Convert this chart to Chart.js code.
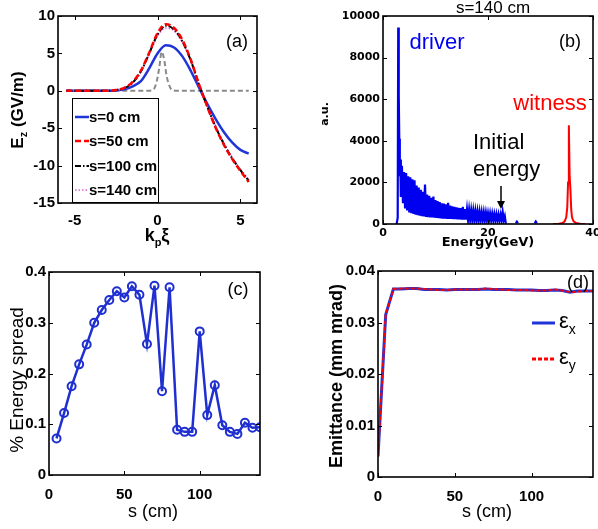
<!DOCTYPE html>
<html><head><meta charset="utf-8">
<script src="https://cdn.jsdelivr.net/npm/chart.js@4.4.1/dist/chart.umd.min.js"></script>
<style>
html,body{margin:0;padding:0;background:#fff;overflow:hidden;width:598px;height:529px;}
canvas{position:absolute;display:block;}
</style></head><body>
<canvas id="ca" width="280" height="250" style="left:0;top:0"></canvas>
<canvas id="cb" width="298" height="250" style="left:300px;top:0"></canvas>
<canvas id="cc" width="280" height="274" style="left:0;top:255px"></canvas>
<canvas id="cd" width="298" height="274" style="left:300px;top:255px"></canvas>
<script>
// ---------- Panel (a): longitudinal field ----------
const kpXi   = [-5.5,-5,-4.5,-4,-3.5,-3,-2.5,-2,-1.5,-1,-0.5,0,0.5,1,1.5,2,2.5,3,3.5,4,4.5,5,5.5];
const ezS0   = [0,0,0,0,0,0,0.05,0.2,0.6,1.3,3.0,5.0,6.1,5.8,4.6,2.7,0.45,-1.75,-3.75,-5.5,-6.9,-7.9,-8.4];
const ezS50  = [0,0,0,0,0,0,0.1,0.4,1.2,2.7,5.1,7.7,8.9,8.4,6.8,4.2,0.9,-2.1,-4.9,-7.2,-9.1,-10.7,-12.2];
const ezS100 = [0,0,0,0,0,0,0.1,0.35,1.1,2.6,5.0,7.5,8.7,8.2,6.6,4.1,0.85,-2.1,-4.8,-7.1,-9.0,-10.6,-12.0];
const ezS140 = [0,0,0,0,0,0,0.1,0.3,1.0,2.5,4.9,7.3,8.4,8.0,6.5,4.0,0.8,-2.1,-4.7,-7.0,-8.9,-10.5,-11.9];
const beamXi      = [-5.5,-0.6,-0.3,-0.1,0.1,0.25,0.4,0.55,0.75,0.95,1.2,5.5];
const beamProfile = [0,0,0.1,0.8,3.0,5.2,4.2,2.0,0.5,0.05,0,0];
const ezLabels = ['s=0 cm','s=50 cm','s=100 cm','s=140 cm'];

// ---------- Panel (b): energy spectrum at s=140 cm ----------
const driverE = [2.6,2.8,2.9,3.0,3.1,3.2,3.3,3.4,3.6,3.8,4.0,4.2,4.4,4.6,4.8,5.0,5.2,5.4,5.6,5.8,6.0,6.2,6.4,6.6,6.8,7.0,7.2,7.4,7.6,7.8,8.0,8.2,8.4,8.6,8.8,9.0,9.2,9.4,9.6,9.8,10.0,10.2,10.4,10.6,10.8,11.0,11.2,11.4,11.6,11.8,12.0,12.2,12.4,12.6,12.8,13.0,13.2,13.4,13.6,13.8,14.0,14.2,14.4,14.6,14.8,15.0,15.2,15.4,15.6,15.8,16.0,16.2,16.4,16.6,16.8,17.0,17.2,17.4,17.6,17.8,18.0,18.2,18.4,18.6,18.8,19.0,19.2,19.4,19.6,19.8,20.0,20.2,20.4,20.6,20.8,21.0,21.2,21.4,21.6,21.8,22.0,22.2,22.4,22.6,22.8,23.0,23.2,23.4,24.0,25.3,25.5,25.7,27.0,28.9,29.1,29.3];
const driverCounts = [0,300,9450,6200,4100,2300,3100,1300,2800,1000,2500,750,2450,650,2300,560,2250,520,2150,480,2100,450,1850,420,1750,400,1650,380,1550,360,1900,340,1420,330,1350,320,1260,310,1320,300,1150,290,1100,280,1050,270,1000,260,980,255,950,250,1020,245,880,240,850,235,820,230,800,225,780,220,760,215,830,210,720,205,700,200,680,200,650,195,640,195,620,190,600,190,590,185,570,185,560,180,540,180,520,175,510,175,500,170,480,170,470,165,460,165,450,160,580,200,380,0,null,40,110,40,null,40,120,40];
const witnessE = [32.4,33.5,34.2,34.6,34.9,35.1,35.25,35.4,35.55,35.7,35.85,36.0,36.3,36.8,37.5,38.5];
const witnessCounts = [0,15,50,130,320,800,2000,4750,2300,1650,700,320,130,45,15,0];

// ---------- Panel (c): energy spread ----------
const sSpread = [5,10,15,20,25,30,35,40,45,50,55,60,65,70,75,80,85,90,95,100,105,110,115,120,125,130,135,140];
const energySpread = [0.072,0.122,0.175,0.218,0.257,0.300,0.325,0.345,0.362,0.350,0.372,0.355,0.258,0.373,0.165,0.370,0.089,0.085,0.085,0.283,0.118,0.177,0.098,0.085,0.081,0.103,0.093,0.094];

// ---------- Panel (d): emittance ----------
const sEmit = [0,5,10,15,20,25,30,35,40,45,50,55,60,65,70,75,80,85,90,95,100,105,110,115,120,125,130,135,140];
const emitX = [0.004,0.0315,0.0365,0.0365,0.0366,0.0366,0.0364,0.0364,0.0364,0.0363,0.0364,0.0364,0.0364,0.0364,0.0365,0.0364,0.0364,0.0364,0.0363,0.0363,0.0363,0.0362,0.0362,0.0363,0.0362,0.0359,0.0361,0.0361,0.0361];
const emitY = [0.004,0.0315,0.0365,0.0366,0.0366,0.0366,0.0365,0.0364,0.0363,0.0363,0.0364,0.0364,0.0364,0.0364,0.0366,0.0365,0.0364,0.0363,0.0363,0.0363,0.0362,0.0362,0.0362,0.0364,0.0362,0.0359,0.0360,0.0361,0.0361];

const pts = (xs, ys) => xs.map((x, i) => ({x: x, y: ys[i]}));
const NARROW = "'Liberation Sans Narrow','Liberation Sans',Arial,sans-serif";
const SANS = "'Liberation Sans',Arial,sans-serif";
const WIDE = "'DejaVu Sans',Verdana,sans-serif";

function drawRich(ctx, it) {
  ctx.save();
  ctx.translate(it.x, it.y);
  if (it.rotate) ctx.rotate(it.rotate);
  const fam = it.family || SANS, wt = it.weight || 'normal';
  const base = wt + ' ' + it.size + 'px ' + fam;
  const sub = wt + ' ' + Math.round(it.size * 0.62) + 'px ' + fam;
  let w = 0; const ws = [];
  it.segs.forEach(s => { ctx.font = s[1] ? sub : base; const m = ctx.measureText(s[0]).width; ws.push(m); w += m; });
  let x = it.align === 'left' ? 0 : (it.align === 'right' ? -w : -w / 2);
  ctx.textBaseline = 'middle';
  ctx.fillStyle = it.color || '#000';
  it.segs.forEach((s, i) => {
    ctx.font = s[1] ? sub : base;
    ctx.fillText(s[0], x, s[1] ? it.size * 0.38 : 0);
    x += ws[i];
  });
  ctx.restore();
}

function makeDeco(texts, extra) {
  return {
    id: 'deco',
    afterDraw(chart) {
      const {ctx, chartArea: a, scales} = chart;
      ctx.save();
      ctx.strokeStyle = '#000';
      ctx.lineWidth = 1;
      const L = 4;
      ctx.beginPath();
      scales.x.ticks.forEach(t => {
        const p = Math.round(scales.x.getPixelForValue(t.value)) + 0.5;
        ctx.moveTo(p, a.bottom); ctx.lineTo(p, a.bottom - L);
        ctx.moveTo(p, a.top); ctx.lineTo(p, a.top + L);
      });
      scales.y.ticks.forEach(t => {
        const p = Math.round(scales.y.getPixelForValue(t.value)) + 0.5;
        ctx.moveTo(a.left, p); ctx.lineTo(a.left + L, p);
        ctx.moveTo(a.right, p); ctx.lineTo(a.right - L, p);
      });
      ctx.stroke();
      ctx.lineWidth = 1.6;
      ctx.strokeRect(a.left, a.top, a.right - a.left, a.bottom - a.top);
      ctx.restore();
      if (extra) extra(chart, ctx);
      texts.forEach(t => drawRich(ctx, t));
    }
  };
}

function axes(xmin, xmax, xstep, ymin, ymax, ystep, yW, xH, tickFont, xPad, yPad, yFmt) {
  return {
    x: {type: 'linear', min: xmin, max: xmax,
        ticks: {stepSize: xstep, includeBounds: false, font: tickFont, color: '#000', padding: xPad, maxRotation: 0},
        grid: {display: false, drawTicks: false}, border: {display: false},
        afterFit(s) { s.height = xH; s.paddingLeft = 0; s.paddingRight = 0; }},
    y: {type: 'linear', min: ymin, max: ymax,
        ticks: Object.assign({stepSize: ystep, includeBounds: false, font: tickFont, color: '#000', padding: yPad}, yFmt ? {callback: yFmt} : {}),
        grid: {display: false, drawTicks: false}, border: {display: false},
        afterFit(s) { s.width = yW; s.paddingTop = 0; s.paddingBottom = 0; }}
  };
}

const basePlugins = {legend: {display: false}, tooltip: {enabled: false}};

// ----- Chart A -----
const colA = ['#1f35d8', '#ff0000', '#000000', '#e060e0'];
const dashA = [[], [6, 3], [6, 2, 1.5, 2], [1.5, 2]];
const widthA = [2.5, 2.5, 2, 1.6];
const seriesA = [ezS0, ezS50, ezS100, ezS140];
const ordA = [4, 1, 2, 3];
const dsA = seriesA.map((s, i) => ({
  label: ezLabels[i], data: pts(kpXi, s), borderColor: colA[i], borderWidth: widthA[i],
  borderDash: dashA[i], pointRadius: 0, tension: 0.4, cubicInterpolationMode: 'monotone', order: ordA[i]
}));
dsA.push({label: '', data: pts(beamXi, beamProfile), borderColor: '#8a8a8a', borderWidth: 2,
  borderDash: [5, 3], pointRadius: 0, cubicInterpolationMode: 'monotone', order: 5});

const legendA = (chart, ctx) => {
  ctx.save();
  ctx.fillStyle = '#fff';
  ctx.fillRect(72, 98, 86, 104);
  ctx.strokeStyle = '#000'; ctx.lineWidth = 1;
  ctx.strokeRect(72.5, 98.5, 86, 104);
  const ys = [117, 141, 166, 190];
  ezLabels.forEach((lab, i) => {
    ctx.beginPath();
    ctx.setLineDash(dashA[i]);
    ctx.strokeStyle = colA[i]; ctx.lineWidth = widthA[i];
    ctx.moveTo(75, ys[i]); ctx.lineTo(89, ys[i]); ctx.stroke();
    ctx.setLineDash([]);
    ctx.fillStyle = '#000'; ctx.font = 'bold 15px ' + NARROW; ctx.textBaseline = 'middle';
    ctx.fillText(lab, 89, ys[i] + 1);
  });
  ctx.restore();
};

new Chart(document.getElementById('ca'), {
  type: 'line',
  data: {datasets: dsA},
  options: {
    responsive: false, animation: false,
    layout: {padding: {left: 0, top: 16, right: 23, bottom: 0}},
    scales: axes(-6, 6, 5, -15, 10, 5, 58, 47, {size: 15, weight: 'bold', family: NARROW}, 9, 3),
    plugins: basePlugins
  },
  plugins: [makeDeco([
    {x: 18, y: 110, rotate: -Math.PI / 2, size: 17, weight: 'bold', segs: [['E'], ['z', 1], [' (GV/m)']]},
    {x: 157, y: 236, size: 18, weight: 'bold', segs: [['k'], ['p', 1], ['ξ']]},
    {x: 237, y: 42, size: 18, segs: [['(a)']]}
  ], legendA)]
});

// ----- Chart B -----
const arrowB = (chart, ctx) => {
  ctx.save();
  ctx.strokeStyle = '#000'; ctx.fillStyle = '#000'; ctx.lineWidth = 1.5;
  ctx.beginPath(); ctx.moveTo(201, 186); ctx.lineTo(201, 203); ctx.stroke();
  ctx.beginPath(); ctx.moveTo(197, 201); ctx.lineTo(205, 201); ctx.lineTo(201, 209); ctx.closePath(); ctx.fill();
  ctx.restore();
};
new Chart(document.getElementById('cb'), {
  type: 'line',
  data: {datasets: [
    {label: 'driver', data: pts(driverE, driverCounts), borderColor: '#0000f0', borderWidth: 2.2, pointRadius: 0, spanGaps: false},
    {label: 'witness', data: pts(witnessE, witnessCounts), borderColor: '#ff0000', borderWidth: 2, pointRadius: 0}
  ]},
  options: {
    responsive: false, animation: false,
    layout: {padding: {left: 0, top: 16, right: 5, bottom: 0}},
    scales: axes(0, 40, 20, 0, 10000, 2000, 83, 26, {size: 11, weight: 'bold', family: WIDE}, 3, 3, v => String(v)),
    plugins: basePlugins
  },
  plugins: [makeDeco([
    {x: 193, y: 8, size: 17, segs: [['s=140 cm']]},
    {x: 25, y: 114, rotate: -Math.PI / 2, size: 11, weight: 'bold', family: WIDE, segs: [['a.u.']]},
    {x: 188, y: 243, size: 13, weight: 'bold', family: WIDE, segs: [['Energy(GeV)']]},
    {x: 137, y: 43, size: 22, color: '#0000f0', segs: [['driver']]},
    {x: 270, y: 42, size: 18, segs: [['(b)']]},
    {x: 250, y: 104, size: 22, color: '#ff0000', segs: [['witness']]},
    {x: 173, y: 143, size: 22, align: 'left', segs: [['Initial']]},
    {x: 173, y: 170, size: 22, align: 'left', segs: [['energy']]}
  ], arrowB)]
});

// ----- Chart C -----
new Chart(document.getElementById('cc'), {
  type: 'line',
  data: {datasets: [
    {label: '% Energy spread', data: pts(sSpread, energySpread), borderColor: '#1f2fd0', borderWidth: 2.5,
     pointRadius: 4, pointBorderWidth: 2, pointBorderColor: '#1f2fd0', pointBackgroundColor: 'rgba(255,255,255,0)', tension: 0}
  ]},
  options: {
    responsive: false, animation: false,
    layout: {padding: {left: 0, top: 17, right: 20, bottom: 0}},
    scales: axes(0, 140, 50, 0, 0.4, 0.1, 49, 54, {size: 15, weight: 'bold', family: NARROW}, 11, 3),
    plugins: basePlugins
  },
  plugins: [makeDeco([
    {x: 18, y: 125, rotate: -Math.PI / 2, size: 19, segs: [['% Energy spread']]},
    {x: 153, y: 257, size: 18, segs: [['s (cm)']]},
    {x: 238, y: 35, size: 18, segs: [['(c)']]}
  ])]
});

// ----- Chart D -----
const legendD = (chart, ctx) => {
  ctx.save();
  ctx.beginPath(); ctx.strokeStyle = '#1f35d8'; ctx.lineWidth = 3;
  ctx.moveTo(232, 68); ctx.lineTo(255, 68); ctx.stroke();
  ctx.beginPath(); ctx.strokeStyle = '#ff0000'; ctx.lineWidth = 3; ctx.setLineDash([4, 2]);
  ctx.moveTo(232, 104); ctx.lineTo(255, 104); ctx.stroke();
  ctx.restore();
};
new Chart(document.getElementById('cd'), {
  type: 'line',
  data: {datasets: [
    {label: 'εx', data: pts(sEmit, emitX), borderColor: '#1f35d8', borderWidth: 3, pointRadius: 0, order: 2},
    {label: 'εy', data: pts(sEmit, emitY), borderColor: '#ff0000', borderWidth: 2, borderDash: [4, 2], pointRadius: 0, order: 1}
  ]},
  options: {
    responsive: false, animation: false,
    layout: {padding: {left: 0, top: 16, right: 5, bottom: 0}},
    scales: axes(0, 140, 50, 0, 0.04, 0.01, 78, 52, {size: 15, weight: 'bold', family: NARROW}, 11, 3),
    plugins: basePlugins
  },
  plugins: [makeDeco([
    {x: 37, y: 121, rotate: -Math.PI / 2, size: 18, weight: 'bold', segs: [['Emittance (mm mrad)']]},
    {x: 187, y: 257, size: 18, segs: [['s (cm)']]},
    {x: 278, y: 28, size: 18, segs: [['(d)']]},
    {x: 259, y: 67, size: 22, align: 'left', segs: [['ε'], ['x', 1]]},
    {x: 259, y: 103, size: 22, align: 'left', segs: [['ε'], ['y', 1]]}
  ], legendD)]
});
</script>
</body></html>
